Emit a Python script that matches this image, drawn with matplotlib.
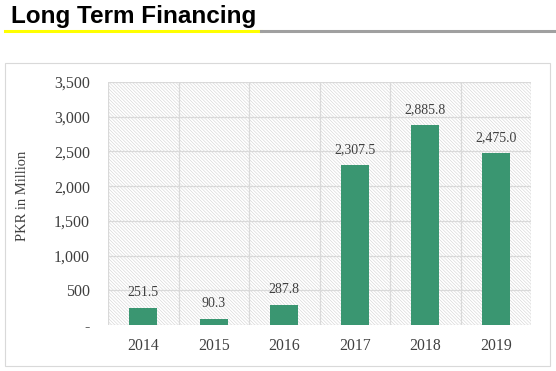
import matplotlib.pyplot as plt
import matplotlib.patches as mpatches
import matplotlib.lines as mlines

years = ['2014', '2015', '2016', '2017', '2018', '2019']
values = [251.5, 90.3, 287.8, 2307.5, 2885.8, 2475.0]
yticks = [0, 500, 1000, 1500, 2000, 2500, 3000, 3500]
ytick_labels = ['-', '500', '1,000', '1,500', '2,000', '2,500', '3,000', '3,500']

plt.rcParams['hatch.linewidth'] = 0.4
plt.rcParams['hatch.color'] = '#d2d2d2'

fig = plt.figure(figsize=(5.56, 3.71), dpi=100)
W, H = 556, 371

# title + underline
fig.text(11 / W, 1 - 16 / H, 'Long Term Financing', fontsize=17.5, fontweight='bold',
         family='Liberation Sans', va='center', ha='left', color='black')
fig.add_artist(mlines.Line2D([5 / W, 261 / W], [1 - 31 / H, 1 - 31 / H], color='#ffff00', lw=2.2))
fig.add_artist(mlines.Line2D([261 / W, 1], [1 - 31 / H, 1 - 31 / H], color='#a0a0a0', lw=2.2))

# chart border
fig.add_artist(mpatches.Rectangle((5 / W, 1 - 366 / H), 545 / W, 303 / H, fill=False,
                                  edgecolor='#d9d9d9', lw=0.8))

ax = fig.add_axes([108 / W, 1 - 325 / H, 423 / W, 243 / H])
ax.set_xlim(-0.5, 5.5)
ax.set_ylim(0, 3500)

# hatched plot background
ax.add_patch(mpatches.Rectangle((0, 0), 1, 1, transform=ax.transAxes, facecolor='white',
                                hatch='\\' * 10, edgecolor='#d2d2d2', lw=0, zorder=0))

for y in yticks:
    ax.axhline(y, color='#d9d9d9', lw=0.9, zorder=1)
for i in range(len(years) + 1):
    ax.axvline(i - 0.5, color='#d9d9d9', lw=0.9, zorder=1)

x = list(range(len(years)))
ax.bar(x, values, width=0.4, color='#3a9671', zorder=3)
for xi, v in zip(x, values):
    ax.annotate(f'{v:,.1f}', (xi, v), xytext=(0, 8.5), textcoords='offset points',
                ha='center', va='baseline', fontsize=10,
                family='Liberation Serif', color='#404040', zorder=4)

ax.set_xticks(x)
ax.set_xticklabels(years, family='Liberation Serif', fontsize=11.3, color='#404040')
ax.set_yticks(yticks)
ax.set_yticklabels(ytick_labels, family='Liberation Serif', fontsize=11.5, color='#404040')
ax.tick_params(length=0)
ax.tick_params(axis='y', pad=13)
ax.tick_params(axis='x', pad=9)
for s in ax.spines.values():
    s.set_visible(False)

fig.text(23 / W, 1 - 196 / H, 'PKR in Million', rotation=90, ha='center', va='center',
         family='Liberation Serif', fontsize=10.5, color='#404040')

fig.savefig('out.png', dpi=100)
